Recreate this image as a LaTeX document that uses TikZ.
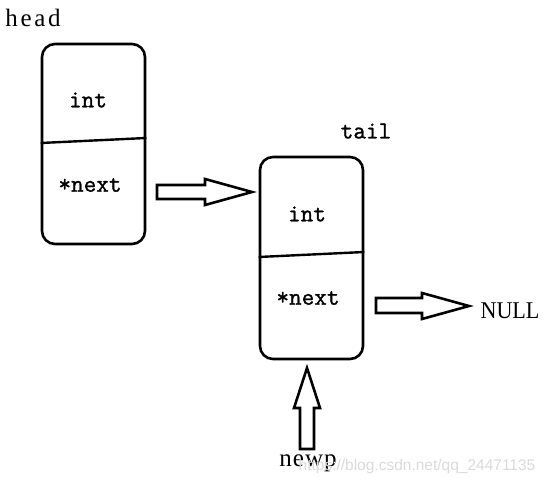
\documentclass[tikz,border=0pt]{standalone}
\usepackage{fontspec}
\setmainfont{Liberation Serif}
\newfontfamily\monof[FakeBold=1.2]{Latin Modern Mono}
\newfontfamily\wideserif[LetterSpace=11]{Liberation Serif}
\newfontfamily\midserif[LetterSpace=4]{Liberation Serif}
\newfontfamily\narrowserif[FakeStretch=0.92]{Liberation Serif}
\newfontfamily\wmfont{Liberation Sans}
\begin{document}
\begin{tikzpicture}[x=1pt,y=-1pt,
  nodebox/.style={draw, line width=2.6pt, rounded corners=13pt, minimum width=103pt, inner sep=0pt},
  divider/.style={line width=2.4pt},
  lab/.style={font=\fontsize{25}{27}\selectfont, inner sep=0pt},
  mlab/.style={font=\monof\fontsize{24.5}{26}\selectfont, inner sep=0pt},
  blockarrow/.style={draw, line width=2.6pt, line join=miter, fill=white},
  wm/.style={font=\wmfont\fontsize{15.5}{18}\selectfont, text=black!14, inner sep=0pt}]
\useasboundingbox (0,0) rectangle (548,486);
\fill[white] (0,0) rectangle (548,486);

% boxes
\node[nodebox, minimum height=200pt] (b1) at (93.5,144) {};
\node[nodebox, minimum height=202pt] (b2) at (311.5,258) {};
\draw[divider] (b1.west |- 0,143) -- (b1.east |- 0,138);
\draw[divider] (b2.west |- 0,257) -- (b2.east |- 0,252);

% labels
\node[lab, font=\wideserif\fontsize{25}{27}\selectfont] (head) at (33,18) {head};
\node[mlab] (int1) at (88,100) {int};
\node[mlab] (next1) at (90,185) {*next};
\node[mlab] (tail) at (366,131) {tail};
\node[mlab] (int2) at (307,214) {int};
\node[mlab] (next2) at (308,298) {*next};
\node[lab, font=\narrowserif\fontsize{24}{26}\selectfont] (null) at (510,311) {NULL};
\node[lab, font=\midserif\fontsize{25}{27}\selectfont] (newp) at (308,463) {newp};
\node[wm] (wmark) at (417,466) {https://blog.csdn.net/qq\_24471135};

% block arrows
\draw[blockarrow] (157,185) -- (205,185) -- (205,179) -- (252,192) -- (205,205) -- (205,199) -- (157,199) -- cycle;
\draw[blockarrow] (376,298) -- (422,298) -- (422,293) -- (469,306) -- (422,319) -- (422,313) -- (376,313) -- cycle;
\draw[blockarrow] (300,449) -- (300,408) -- (294,408) -- (307,368) -- (320,408) -- (314,408) -- (314,449) -- cycle;
\end{tikzpicture}
\end{document}
